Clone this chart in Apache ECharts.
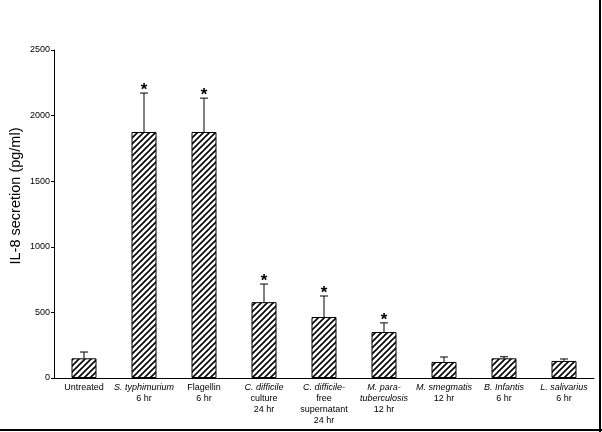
<!DOCTYPE html>
<html>
<head>
<meta charset="utf-8">
<script src="https://cdn.jsdelivr.net/npm/echarts@6/dist/echarts.min.js"></script>
<style>
  html, body { margin: 0; padding: 0; background: #fff; }
  #chart { width: 602px; height: 432px; }
</style>
</head>
<body>
<div id="chart"></div>
<script>
const categories = [
  'Untreated',
  'S. typhimurium\n6 hr',
  'Flagellin\n6 hr',
  'C. difficile\nculture\n24 hr',
  'C. difficile-\nfree\nsupernatant\n24 hr',
  'M. para-\ntuberculosis\n12 hr',
  'M. smegmatis\n12 hr',
  'B. Infantis\n6 hr',
  'L. salivarius\n6 hr'
]
const italicLines = ['S. typhimurium', 'C. difficile', 'C. difficile-', 'M. para-', 'tuberculosis', 'M. smegmatis', 'B. Infantis', 'L. salivarius']
const il8Values = [150, 1875, 1875, 578, 465, 350, 122, 150, 130]
const il8Errors = [48, 297, 258, 138, 160, 70, 38, 12, 15]
const significant = [0, 1, 1, 1, 1, 1, 0, 0, 0]
const yTicks = [0, 500, 1000, 1500, 2000, 2500]

// diagonal hatch fill
function hatch() {
  const c = document.createElement('canvas')
  c.width = 6
  c.height = 6
  const ctx = c.getContext('2d')
  ctx.fillStyle = '#fff'
  ctx.fillRect(0, 0, 6, 6)
  ctx.strokeStyle = '#000'
  ctx.lineWidth = 1.6
  ctx.beginPath()
  ctx.moveTo(-1, 7); ctx.lineTo(7, -1)
  ctx.moveTo(-1, 1); ctx.lineTo(1, -1)
  ctx.moveTo(5, 7); ctx.lineTo(7, 5)
  ctx.stroke()
  return c
}

const chart = echarts.init(document.getElementById('chart'))
const font = '"Liberation Sans", Arial, sans-serif'

const option = {
  animation: false,
  textStyle: { fontFamily: font, color: '#000' },
  grid: { left: 54, right: 8, top: 50, bottom: 54 },
  xAxis: {
    type: 'category',
    data: categories,
    axisLine: { lineStyle: { color: '#000', width: 1 } },
    axisTick: { show: false },
    axisLabel: {
      interval: 0,
      margin: 4,
      color: '#000',
      formatter: function (value) {
        return value.split('\n').map(function (l) {
          return italicLines.indexOf(l) >= 0 ? '{i|' + l + '}' : '{n|' + l + '}'
        }).join('\n')
      },
      rich: {
        i: { fontStyle: 'italic', fontSize: 9, lineHeight: 11, fontFamily: font, color: '#000' },
        n: { fontSize: 9, lineHeight: 11, fontFamily: font, color: '#000' }
      }
    }
  },
  yAxis: {
    type: 'value',
    min: yTicks[0],
    max: yTicks[yTicks.length - 1],
    interval: 500,
    splitLine: { show: false },
    axisLine: { show: true, lineStyle: { color: '#000', width: 1 } },
    axisTick: { show: true, length: 3, lineStyle: { color: '#000' } },
    axisLabel: {
      fontSize: 9, margin: 4, color: '#000', fontFamily: font,
      formatter: function (v) { return String(v) }
    }
  },
  graphic: [
    {
      type: 'text',
      x: 16, y: 196,
      rotation: Math.PI / 2,
      style: {
        text: 'IL-8 secretion (pg/ml)',
        fontSize: 14.5,
        fontFamily: font,
        fill: '#000',
        align: 'center',
        verticalAlign: 'middle'
      }
    },
    { type: 'line', shape: { x1: 600, y1: 0, x2: 600, y2: 432 }, style: { stroke: '#000', lineWidth: 2 } },
    { type: 'line', shape: { x1: 0, y1: 430, x2: 602, y2: 430 }, style: { stroke: '#000', lineWidth: 2 } }
  ],
  series: [
    {
      type: 'bar',
      data: il8Values,
      barWidth: 25,
      itemStyle: {
        color: { image: hatch(), repeat: 'repeat' },
        borderColor: '#000',
        borderWidth: 1
      },
      z: 2
    },
    {
      type: 'custom',
      z: 3,
      data: il8Values.map(function (v, i) { return [i, v, il8Errors[i], significant[i]] }),
      renderItem: function (params, api) {
        const x = api.value(0)
        const v = api.value(1)
        const e = api.value(2)
        const base = api.coord([x, v])
        const top = api.coord([x, v + e])
        const children = [
          { type: 'line', shape: { x1: base[0], y1: base[1], x2: top[0], y2: top[1] }, style: { stroke: '#000', lineWidth: 1 } },
          { type: 'line', shape: { x1: top[0] - 4, y1: top[1], x2: top[0] + 4, y2: top[1] }, style: { stroke: '#000', lineWidth: 1 } }
        ]
        if (api.value(3)) {
          children.push({
            type: 'text',
            x: top[0], y: top[1] + 6,
            style: { text: '*', fontSize: 17, fontWeight: 'bold', fontFamily: font, fill: '#000', align: 'center', verticalAlign: 'bottom' }
          })
        }
        return { type: 'group', children: children }
      }
    }
  ]
}
chart.setOption(option)
</script>
</body>
</html>
